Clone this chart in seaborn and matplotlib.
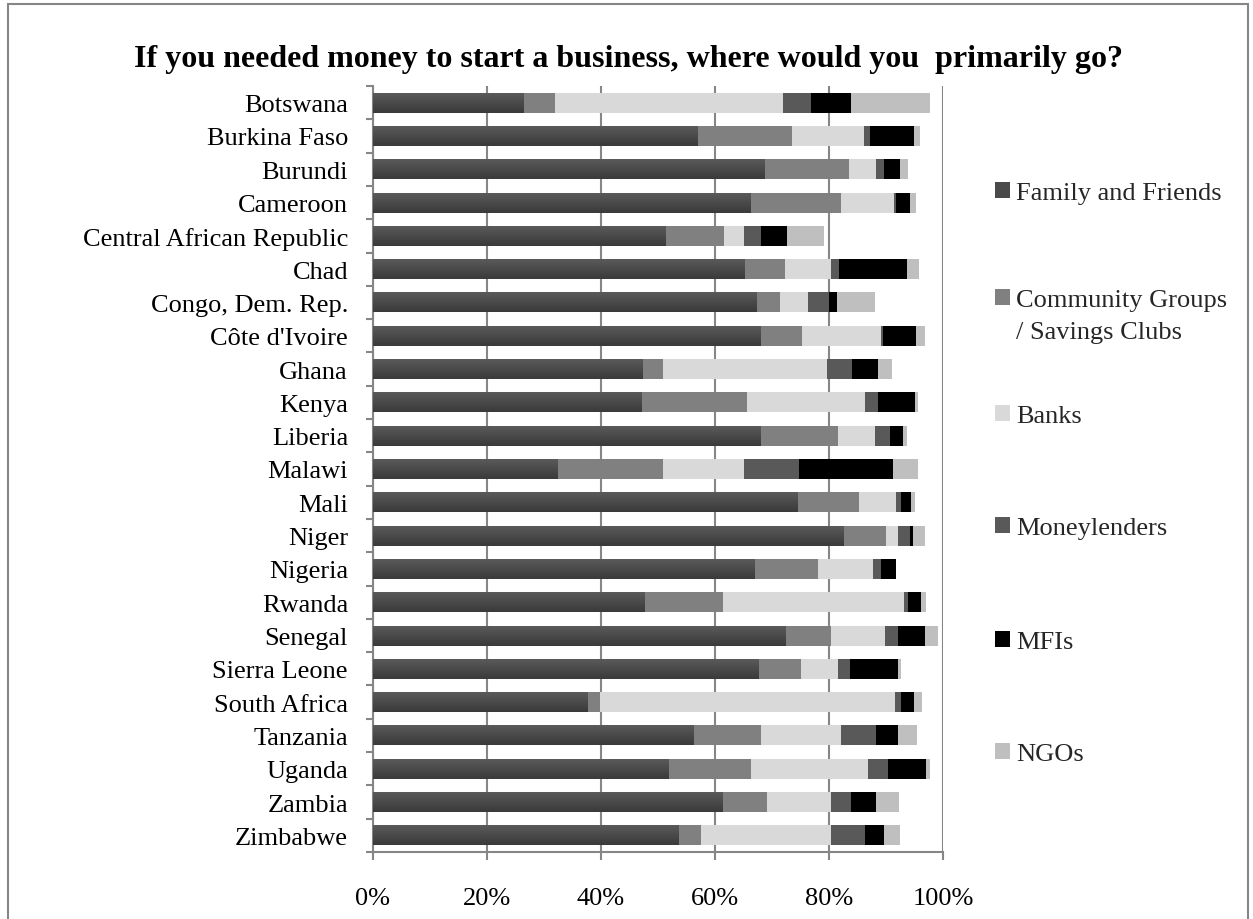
import matplotlib
matplotlib.use("Agg")
import matplotlib.pyplot as plt
from matplotlib.patches import Patch, Rectangle
from matplotlib.ticker import FixedLocator, PercentFormatter
from matplotlib.colors import LinearSegmentedColormap
import numpy as np
import pandas as pd
import seaborn as sns

# ---------------- data (percent of respondents) ----------------
countries = ["Botswana", "Burkina Faso", "Burundi", "Cameroon", "Central African Republic",
             "Chad", "Congo, Dem. Rep.", "Côte d'Ivoire", "Ghana", "Kenya", "Liberia",
             "Malawi", "Mali", "Niger", "Nigeria", "Rwanda", "Senegal", "Sierra Leone",
             "South Africa", "Tanzania", "Uganda", "Zambia", "Zimbabwe"]

family_friends = [26.4, 57.0, 68.7, 66.3, 51.3, 65.2, 67.3, 68.0, 47.3, 47.1, 68.0, 32.3,
                  74.5, 82.6, 66.9, 47.6, 72.4, 67.7, 37.6, 56.2, 51.9, 61.4, 53.6]
community_groups = [5.6, 16.5, 14.8, 15.8, 10.2, 7.0, 4.1, 7.2, 3.5, 18.6, 13.5, 18.6,
                    10.7, 7.4, 11.1, 13.8, 8.0, 7.3, 2.3, 11.8, 14.5, 7.8, 3.9]
banks = [40.0, 12.6, 4.7, 9.3, 3.6, 8.2, 5.0, 13.9, 28.8, 20.6, 6.5, 14.2,
         6.5, 2.1, 9.7, 31.7, 9.5, 6.5, 51.6, 14.1, 20.4, 11.2, 22.9]
moneylenders = [4.8, 1.1, 1.4, 0.3, 2.9, 1.3, 3.6, 0.3, 4.5, 2.3, 2.7, 9.6,
                0.9, 2.1, 1.4, 0.7, 2.2, 2.2, 1.2, 6.1, 3.5, 3.4, 5.9]
mfis = [7.0, 7.8, 2.8, 2.5, 4.6, 11.9, 1.4, 5.8, 4.5, 6.4, 2.2, 16.5,
        1.8, 0.5, 2.6, 2.3, 4.7, 8.4, 2.2, 3.9, 6.7, 4.4, 3.3]
ngos = [14.0, 0.9, 1.4, 1.0, 6.5, 2.2, 6.6, 1.6, 2.4, 0.7, 0.7, 4.4,
        0.6, 2.1, 0.1, 0.9, 2.3, 0.5, 1.4, 3.3, 0.7, 4.1, 2.8]

series_names = ["Family and Friends", "Community Groups\n/ Savings Clubs", "Banks",
                "Moneylenders", "MFIs", "NGOs"]
series_colors = ["#4a4a4a", "#808080", "#d9d9d9", "#595959", "#000000", "#bfbfbf"]
x_ticks = [0, 20, 40, 60, 80, 100]
title = "If you needed money to start a business, where would you  primarily go?"

# ---------------- build table ----------------
df = pd.DataFrame({
    "country": countries,
    "s0": family_friends, "s1": community_groups, "s2": banks,
    "s3": moneylenders, "s4": mfis, "s5": ngos,
})
cols = ["s0", "s1", "s2", "s3", "s4", "s5"]
cum = df[cols].cumsum(axis=1) / 100.0
for i, c in enumerate(cols):
    df["cum" + str(i)] = cum[c]

# ---------------- figure ----------------
sns.set_theme(style="white")
plt.rcParams["font.family"] = ["Liberation Serif", "DejaVu Serif"]

W, H = 1253, 920
fig = plt.figure(figsize=(W / 100, H / 100), dpi=100)
ax = fig.add_axes([373 / W, 1 - 853 / H, (943 - 373) / W, (853 - 87) / H])

grid_col = "#868686"
# draw cumulative layers from total down so each visible part shows its own series
for i in reversed(range(len(cols))):
    sns.barplot(data=df, y="country", x="cum" + str(i), order=countries, orient="h",
                color=series_colors[i], saturation=1, width=0.6, linewidth=0,
                errorbar=None, ax=ax, zorder=3)

ax.set_xlim(0, 1.0)
ax.set_ylim(len(countries) - 0.5, -0.5)

# subtle vertical gradient on the "Family and Friends" bars (Excel style)
grad_cmap = LinearSegmentedColormap.from_list("ff", ["#5a5a5a", "#3a3a3a"])
grad = np.linspace(0, 1, 64).reshape(-1, 1)
for bar in ax.containers[-1]:
    x0, y0 = bar.get_x(), bar.get_y()
    w, h = bar.get_width(), bar.get_height()
    im = ax.imshow(grad, cmap=grad_cmap, aspect="auto", origin="upper",
                   extent=(x0, x0 + w, y0 + h, y0), zorder=3.5, interpolation="bilinear")
    im.set_clip_path(bar)

ax.set_xlim(0, 1.0)
ax.set_ylim(len(countries) - 0.5, -0.5)
ax.set_aspect("auto")
ax.set_xlabel("")
ax.set_ylabel("")

ax.xaxis.set_major_locator(FixedLocator([t / 100 for t in x_ticks]))
ax.xaxis.set_major_formatter(PercentFormatter(1.0, decimals=0))
ax.grid(axis="x", color=grid_col, linewidth=1.5, zorder=0)
ax.grid(axis="y", visible=False)
ax.set_axisbelow(True)

for s in ["top", "right"]:
    ax.spines[s].set_visible(False)
for s in ["left", "bottom"]:
    ax.spines[s].set_color(grid_col)
    ax.spines[s].set_linewidth(1.5)

ax.tick_params(axis="x", which="major", direction="out", length=6, width=1.5,
               color=grid_col, labelsize=19, pad=19, bottom=True)
ax.tick_params(axis="y", which="major", length=0, labelsize=19, pad=18, left=True)
ax.yaxis.set_minor_locator(FixedLocator(np.arange(-0.5, len(countries), 1.0)))
ax.tick_params(axis="y", which="minor", direction="out", length=5, width=1.5,
               color=grid_col, left=True)
for lab in ax.get_xticklabels() + ax.get_yticklabels():
    lab.set_color("black")

# ---------------- title ----------------
fig.text(628 / W, 1 - 60 / H, title, ha="center", va="center",
         fontsize=23, fontweight="bold", color="black")

# ---------------- legend (one legend block per series, Excel-like spacing) ----------------
legend_y = [194, 297, 417, 529, 643, 755]
for i, name in enumerate(series_names):
    lines = name.split("\n")
    handles = [Patch(facecolor=series_colors[i], edgecolor="none")]
    labels = [lines[0]]
    for extra in lines[1:]:
        handles.append(Patch(facecolor="none", edgecolor="none"))
        labels.append(extra)
    yc = legend_y[i] + (20 if len(lines) > 1 else 0)
    fig.legend(handles, labels, loc="center left",
               bbox_to_anchor=(995 / W, 1 - yc / H), frameon=False,
               fontsize=19, handlelength=0.55, handleheight=0.55,
               handletextpad=0.25, labelspacing=0.35, borderpad=0, borderaxespad=0)

# ---------------- outer chart frame ----------------
fig.patches.append(Rectangle((8 / W, -0.05), (1248 - 8) / W, 1.05 - 5 / H,
                             transform=fig.transFigure, fill=False,
                             edgecolor=grid_col, linewidth=1.5))

fig.savefig("out.png", dpi=100)
